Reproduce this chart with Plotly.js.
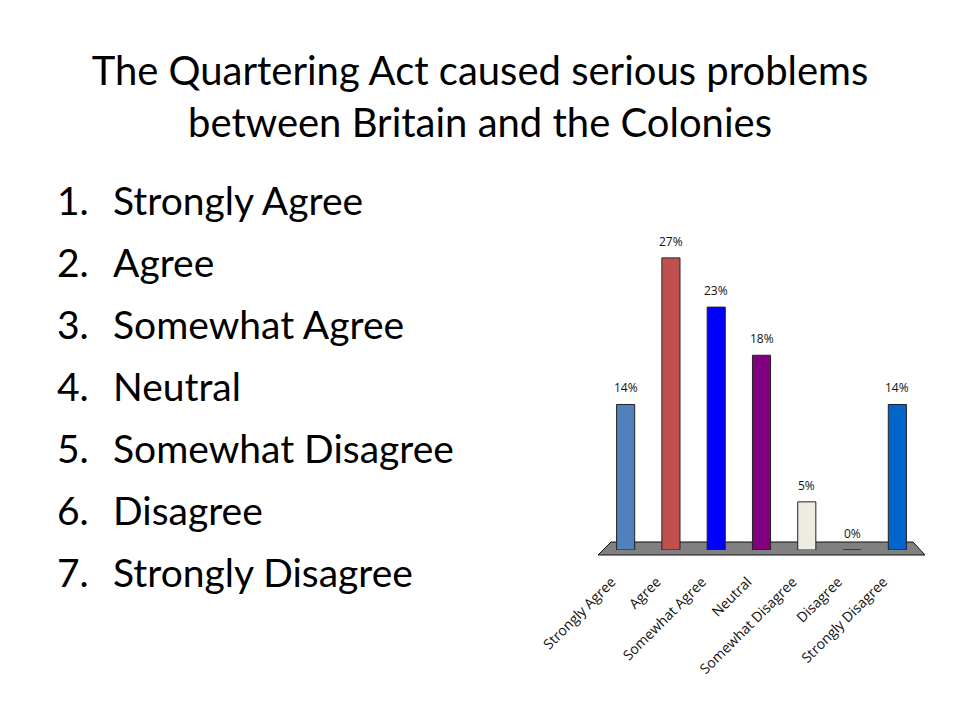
<!DOCTYPE html>
<html>
<head>
<meta charset="utf-8">
<script src="https://cdn.plot.ly/plotly-3.0.1.min.js"></script>
<style>html,body{margin:0;padding:0;background:#fff;}#chart{width:960px;height:720px;}</style>
</head>
<body>
<div id="chart"></div>
<script>
// Data
const categories = ["Strongly Agree", "Agree", "Somewhat Agree", "Neutral", "Somewhat Disagree", "Disagree", "Strongly Disagree"];
const percentValues = [13.6, 27.3, 22.7, 18.2, 4.5, 0, 13.6];
const percentLabels = ["14%", "27%", "23%", "18%", "5%", "0%", "14%"];
const barColors = ["#4F81BD", "#C0504D", "#0000FF", "#800080", "#EEECE1", "#1F497D", "#0066CC"];
const listItems = ["Strongly Agree", "Agree", "Somewhat Agree", "Neutral", "Somewhat Disagree", "Disagree", "Strongly Disagree"];
const titleLines = ["The Quartering Act caused serious problems", "between Britain and the Colonies"];

const W = 960, H = 720;
const px = x => x / W;
const py = y => 1 - y / H;
const FONT = "Lato, 'Open Sans', sans-serif";
const SMALL = "'Open Sans', sans-serif";

const trace = {
  type: "bar",
  x: categories,
  y: percentValues,
  width: 0.4,
  marker: {color: barColors, line: {color: "#222", width: 1}},
  hoverinfo: "skip"
};

const annotations = [];
listItems.forEach((t, i) => {
  const yc = 200 + i * 62;
  annotations.push({xref: "paper", yref: "paper", x: px(55), y: py(yc), xanchor: "left", yanchor: "middle",
    text: (i + 1) + ".", showarrow: false, font: {family: FONT, size: 39, color: "#000"}});
  annotations.push({xref: "paper", yref: "paper", x: px(111), y: py(yc), xanchor: "left", yanchor: "middle",
    text: t, showarrow: false, font: {family: FONT, size: 39, color: "#000"}});
});
categories.forEach((c, i) => {
  annotations.push({xref: "x", yref: "y", x: c, y: percentValues[i], xanchor: "center", yanchor: "bottom",
    yshift: 6, text: percentLabels[i], showarrow: false, font: {family: SMALL, size: 12, color: "#111"}});
});

const floor = {
  type: "path", xref: "paper", yref: "paper", layer: "below",
  path: `M ${px(598)} ${py(555)} L ${px(611)} ${py(542)} L ${px(913)} ${py(542)} L ${px(925)} ${py(555)} Z`,
  fillcolor: "#808080", line: {color: "#111", width: 1}
};

const layout = {
  width: W, height: H,
  margin: {l: 0, r: 0, t: 0, b: 0},
  paper_bgcolor: "#fff", plot_bgcolor: "rgba(0,0,0,0)",
  showlegend: false,
  title: {text: titleLines.join("<br>"), x: 0.5, xanchor: "center", y: py(85), yanchor: "middle",
    font: {family: FONT, size: 40, color: "#000"}},
  xaxis: {domain: [px(603), px(920)], range: [-0.5, 6.5], showgrid: false, zeroline: false, showline: false,
    ticks: "", tickangle: -45, ticklabelstandoff: 20, ticklabelshift: -14,
    tickfont: {family: SMALL, size: 14, color: "#111"}, automargin: false, fixedrange: true},
  yaxis: {domain: [py(550), py(229)], range: [0, 30], visible: false, showgrid: false, zeroline: false, fixedrange: true},
  shapes: [floor],
  annotations: annotations,
  bargap: 0.6
};

Plotly.newPlot("chart", [trace], layout, {displayModeBar: false, staticPlot: true});
</script>
</body>
</html>
